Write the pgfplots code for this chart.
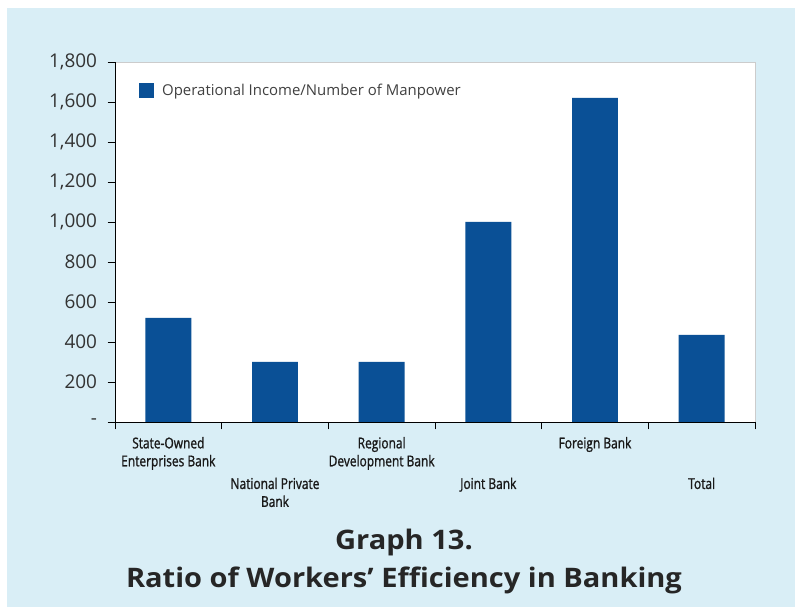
\documentclass[border=0pt]{standalone}
\usepackage{pgfplots}
\pgfplotsset{compat=1.18}
\usepackage{fontspec}
\setmainfont{Open Sans}
\newfontfamily\condfont[FakeStretch=0.8, FakeBold=1.2]{Open Sans}
\newfontfamily\titlefont[FakeStretch=1.08]{Open Sans}
\definecolor{bgblue}{RGB}{217,238,246}
\definecolor{barblue}{RGB}{10,80,150}
\begin{document}
\begin{tikzpicture}[x=1bp,y=1bp]
\path[use as bounding box] (0,0) rectangle (795,607);
\fill[white] (0,0) rectangle (795,607);
\fill[bgblue] (7,0) rectangle (795,599);
\begin{axis}[
  at={(115bp,185bp)}, anchor=south west, scale only axis,
  width=640bp, height=360bp,
  xmin=-0.5, xmax=5.5, ymin=0, ymax=1800,
  axis background/.style={fill=white, draw=gray!40},
  axis x line*=bottom, axis y line*=left,
  axis line style={black, line width=0.8pt, shorten <=-4bp},
  major tick length=7.5bp, tick align=outside,
  tick style={black, line width=0.7pt},
  ytick={0,200,...,1800},
  yticklabels={-,200,400,600,800,{1,000},{1,200},{1,400},{1,600},{1,800}},
  yticklabel style={font=\fontsize{19}{21}\selectfont, text=black!80, xshift=-7bp},
  xtick={-0.5,0.5,1.5,2.5,3.5,4.5,5.5},
  x tick label as interval,
  xticklabels={
    {State-Owned\\Enterprises Bank},
    {\mbox{}\\[34bp]National Private\\Bank},
    {Regional\\Development Bank},
    {\mbox{}\\[34bp]Joint Bank},
    {Foreign Bank},
    {\mbox{}\\[34bp]Total}},
  xticklabel style={font=\condfont\fontsize{15}{18}\selectfont, text=black!90, align=center, anchor=north, yshift=-4bp},
  /pgf/number format/assume math mode=true,
  legend style={at={(0.0375,0.945)}, anchor=north west, draw=none, fill=none,
    font=\fontsize{15}{18}\selectfont\color{black!75}, inner sep=0pt,
    /tikz/every odd column/.append style={column sep=6bp}},
  ybar, bar width=0.43,
]
\addplot[fill=barblue, draw=none,
  legend image code/.code={\fill[barblue] (0bp,-7.5bp) rectangle (15bp,7.5bp);}]
  coordinates {(0,520) (1,300) (2,300) (3,1000) (4,1620) (5,435)};
\addlegendentry{Operational Income/Number of Manpower}
\end{axis}
\node[anchor=base, font=\titlefont\bfseries\fontsize{27}{32}\selectfont, text=black!85] at (404,57) {Graph 13.};
\node[anchor=base, font=\titlefont\bfseries\fontsize{27}{32}\selectfont, text=black!85] at (404,19) {Ratio of Workers’ Efficiency in Banking};
\end{tikzpicture}
\end{document}
